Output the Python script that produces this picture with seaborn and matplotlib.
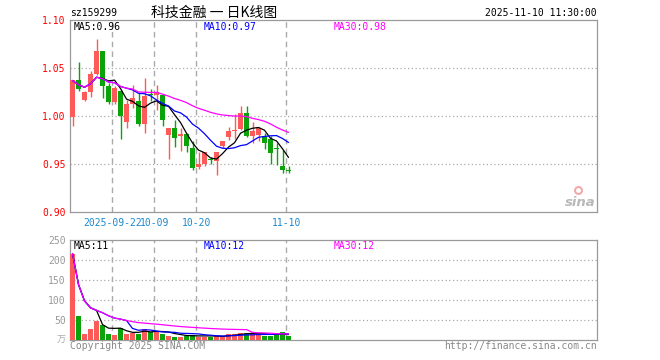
import numpy as np
import pandas as pd
import matplotlib
matplotlib.use("Agg")
import matplotlib.pyplot as plt
import seaborn as sns

# ---------------- data ----------------
dates = ["2025-09-11", "2025-09-12", "2025-09-15", "2025-09-16", "2025-09-17", "2025-09-18",
         "2025-09-19", "2025-09-22", "2025-09-23", "2025-09-24", "2025-09-25", "2025-09-26",
         "2025-09-29", "2025-09-30", "2025-10-09", "2025-10-10", "2025-10-13", "2025-10-14",
         "2025-10-15", "2025-10-16", "2025-10-17", "2025-10-20", "2025-10-21", "2025-10-22",
         "2025-10-23", "2025-10-24", "2025-10-27", "2025-10-28", "2025-10-29", "2025-10-30",
         "2025-10-31", "2025-11-03", "2025-11-04", "2025-11-05", "2025-11-06", "2025-11-07",
         "2025-11-10"]
opens = [0.999, 1.037, 1.017, 1.025, 1.044, 1.068, 1.031, 1.015, 1.026, 0.994, 1.012, 1.016,
         0.992, 1.023, 1.0215, 1.022, 0.9805, 0.9875, 0.9795, 0.981, 0.967, 0.947, 0.950, 0.955,
         0.9535, 0.969, 0.978, 0.9845, 0.9865, 1.0035, 0.979, 0.980, 0.979, 0.976, 0.966, 0.948,
         0.943]
highs = [1.037, 1.056, 1.026, 1.047, 1.080, 1.068, 1.034, 1.031, 1.027, 1.017, 1.032, 1.024,
         1.040, 1.028, 1.032, 1.022, 0.988, 0.996, 0.988, 0.982, 0.974, 0.963, 0.963, 0.9575,
         0.963, 0.974, 0.989, 1.002, 1.010, 1.010, 0.994, 0.989, 0.982, 0.979, 0.972, 0.965,
         0.948]
lows = [0.990, 1.026, 1.016, 1.020, 1.043, 1.019, 1.012, 1.013, 0.976, 0.988, 1.008, 0.990,
        0.982, 1.016, 1.006, 0.990, 0.955, 0.968, 0.964, 0.962, 0.944, 0.945, 0.948, 0.950,
        0.939, 0.967, 0.975, 0.976, 0.9855, 0.978, 0.972, 0.974, 0.9656, 0.950, 0.949, 0.941,
        0.941]
closes = [1.037, 1.028, 1.025, 1.044, 1.068, 1.031, 1.015, 1.029, 1.000, 1.013, 1.019, 0.992,
          1.021, 1.022, 1.025, 0.9955, 0.9875, 0.977, 0.981, 0.969, 0.9455, 0.950, 0.963, 0.954,
          0.963, 0.974, 0.984, 0.9857, 1.0035, 0.979, 0.984, 0.988, 0.9715, 0.961, 0.9655,
          0.9435, 0.9425]
volumes = [216, 60, 15, 27.5, 47.5, 37.5, 15, 12.5, 30, 15, 17.5, 15, 27.5, 20, 22.5, 15, 10,
           7.5, 7.5, 10, 12.5, 7.5, 7.5, 7.5, 9, 8, 15, 14, 17, 17, 15, 15, 9.5, 9.5, 15, 19, 9.5]

tick_dates = ["2025-09-22", "2025-10-09", "2025-10-20", "2025-11-10"]
tick_labels = ["2025-09-22", "10-09", "10-20", "11-10"]
price_ticks = [0.90, 0.95, 1.00, 1.05, 1.10]
price_tick_labels = ["0.90", "0.95", "1.00", "1.05", "1.10"]
vol_ticks = [50, 100, 150, 200, 250]
vol_tick_labels = ["50", "100", "150", "200", "250"]

# ---------------- style ----------------
RED = "#ff5a5a"
GREEN = "#0aa30a"
GRID = "#aaaaaa"
FRAME = "#9a9a9a"
BLUE_TXT = "#1a88d0"

sns.set_style("white")
plt.rcParams['font.family'] = ['DejaVu Sans Mono', 'Noto Sans CJK SC']

W, H = 660, 360
fig = plt.figure(figsize=(6.6, 3.6), dpi=100)
fig.patch.set_facecolor("white")


def fx(px):
    return px / W


def fy(py):
    return 1 - py / H


ax = fig.add_axes([fx(70), fy(212), (597 - 70) / W, (212 - 20) / H])
axv = fig.add_axes([fx(70), fy(339.5), (597 - 70) / W, (339.5 - 240) / H])

df = pd.DataFrame({"date": dates, "open": opens, "high": highs, "low": lows,
                   "close": closes, "vol": volumes})
df["idx"] = np.arange(len(df))
df["dir"] = np.where(df["close"] >= df["open"], "up", "down")
df["color"] = np.where(df["dir"] == "up", RED, GREEN)
for n in (5, 10, 30):
    df[f"ma{n}"] = df["close"].rolling(n, min_periods=1).mean()
    df[f"vma{n}"] = df["vol"].rolling(n, min_periods=1).mean()

xlim = (-0.42, 87.42)
line_pos = [df.index[df["date"] == d][0] - 0.37 for d in tick_dates]

# ---------------- main (candles) ----------------
ax.set_xlim(*xlim)
ax.set_ylim(0.90, 1.10)
for y in price_ticks[1:-1]:
    ax.axhline(y, color=GRID, lw=0.9, ls=(0, (1, 2)), zorder=0)
for x in line_pos:
    ax.axvline(x, color=GRID, lw=1.0, ls=(0, (4, 3)), zorder=0)

body_bottom = np.minimum(df["open"], df["close"])
body_h = np.maximum(np.abs(df["close"] - df["open"]), 0.0012)
ax.vlines(df["idx"], df["low"], df["high"], colors=df["color"], lw=1.0, zorder=2)
ax.bar(df["idx"], body_h, bottom=body_bottom, width=0.8, color=df["color"],
       linewidth=0, zorder=3)

sns.lineplot(x=df["idx"], y=df["ma5"], ax=ax, color="black", lw=0.9, zorder=4)
sns.lineplot(x=df["idx"], y=df["ma10"], ax=ax, color="#0000ff", lw=0.9, zorder=5)
sns.lineplot(x=df["idx"], y=df["ma30"], ax=ax, color="#ff00ff", lw=0.9, zorder=6)

ax.set_yticks(price_ticks)
ax.set_yticklabels(price_tick_labels)
ax.set_xticks(line_pos)
ax.set_xticklabels(tick_labels)
ax.tick_params(axis="y", length=0, pad=3, labelsize=7, labelcolor="#ff0000")
ax.tick_params(axis="x", length=0, pad=4, labelsize=7, labelcolor=BLUE_TXT)
ax.set_xlabel("")
ax.set_ylabel("")
for s in ax.spines.values():
    s.set_color(FRAME)
    s.set_linewidth(0.9)

ax.text(4 / 527, 1 - 7 / 192, "MA5:0.96", transform=ax.transAxes, fontsize=7,
        color="black", va="center", ha="left")
ax.text(134 / 527, 1 - 7 / 192, "MA10:0.97", transform=ax.transAxes, fontsize=7,
        color="#0000ff", va="center", ha="left")
ax.text(264 / 527, 1 - 7 / 192, "MA30:0.98", transform=ax.transAxes, fontsize=7,
        color="#ff00ff", va="center", ha="left")

# ---------------- volume ----------------
sns.barplot(data=df, x="idx", y="vol", hue="dir", palette={"up": RED, "down": GREEN},
            dodge=False, width=0.8, native_scale=True, legend=False, errorbar=None,
            saturation=1, linewidth=0, ax=axv, zorder=3)
axv.set_xlim(*xlim)
axv.set_ylim(0, 250)
for y in vol_ticks[:-1]:
    axv.axhline(y, color=GRID, lw=0.9, ls=(0, (1, 2)), zorder=0)
for x in line_pos:
    axv.axvline(x, color=GRID, lw=1.0, ls=(0, (4, 3)), zorder=0)

sns.lineplot(x=df["idx"], y=df["vma5"], ax=axv, color="black", lw=0.9, zorder=4)
sns.lineplot(x=df["idx"], y=df["vma10"], ax=axv, color="#0000ff", lw=0.9, zorder=5)
sns.lineplot(x=df["idx"], y=df["vma30"], ax=axv, color="#ff00ff", lw=0.9, zorder=6)

axv.set_yticks(vol_ticks)
axv.set_yticklabels(vol_tick_labels)
axv.set_xticks([])
axv.tick_params(axis="y", length=0, pad=3, labelsize=7, labelcolor="#999999")
axv.set_xlabel("")
axv.set_ylabel("")
for s in axv.spines.values():
    s.set_color(FRAME)
    s.set_linewidth(0.9)

axv.text(4 / 527, 1 - 6 / 99.5, "MA5:11", transform=axv.transAxes, fontsize=7,
         color="black", va="center", ha="left")
axv.text(134 / 527, 1 - 6 / 99.5, "MA10:12", transform=axv.transAxes, fontsize=7,
         color="#0000ff", va="center", ha="left")
axv.text(264 / 527, 1 - 6 / 99.5, "MA30:12", transform=axv.transAxes, fontsize=7,
         color="#ff00ff", va="center", ha="left")

# ---------------- header / footer text ----------------
fig.text(fx(70), fy(13), "sz159299", fontsize=7, color="black", va="center", ha="left")
fig.text(fx(214), fy(13), "科技金融 一 日K线图", fontsize=10, color="black", va="center",
         ha="center", family=["Noto Sans CJK SC", "DejaVu Sans"])
fig.text(fx(597), fy(13), "2025-11-10 11:30:00", fontsize=7, color="black", va="center",
         ha="right")
fig.text(fx(70), fy(346), "Copyright 2025 SINA.COM", fontsize=7, color="#888888",
         va="center", ha="left")
fig.text(fx(597), fy(346), "http://finance.sina.com.cn", fontsize=7, color="#888888",
         va="center", ha="right")
fig.text(fx(66), fy(340), "万", fontsize=6.5, color="#aaaaaa", va="center", ha="right",
         family=["Noto Sans CJK SC", "DejaVu Sans"])

# sina watermark
fig.text(fx(596), fy(202), "sina", fontsize=9.5, color="#b8b8b8", va="center", ha="right",
         style="italic", weight="bold", family=["DejaVu Sans"])
ax.plot([fx(578)], [fy(190)], marker="o", ms=5, mfc="none", mec="#f4a6a6", mew=1.4,
        transform=fig.transFigure, clip_on=False, zorder=1)

fig.savefig("out.png", dpi=100)
